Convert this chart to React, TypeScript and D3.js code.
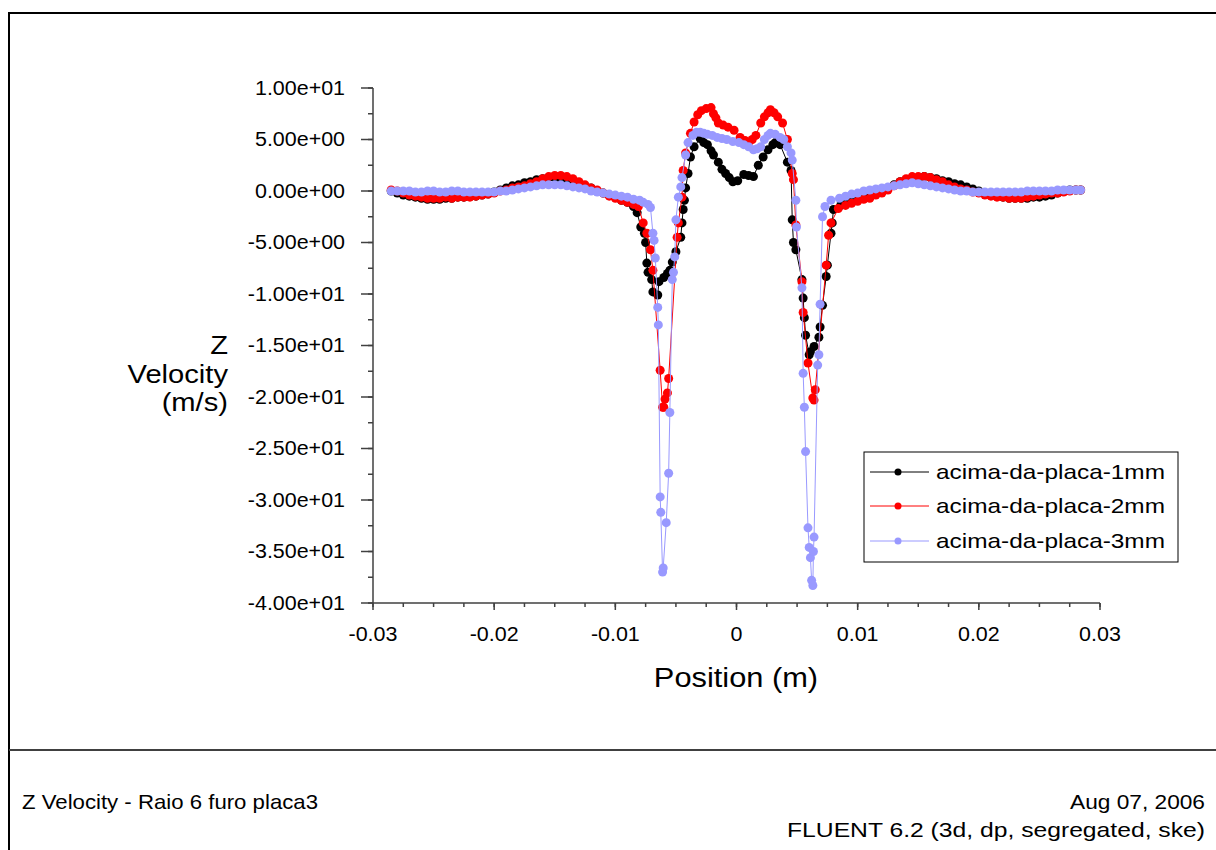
import React from "react";
import * as d3 from "d3";

// Z velocity profiles above the plate (position in m, velocity in m/s)
type Pt = [number, number];

const plate1mm: Pt[] = [
  [-0.0285, 0.0], [-0.028, -0.2], [-0.0275, -0.4], [-0.027, -0.5], [-0.0265, -0.6], [-0.026, -0.7],
  [-0.0255, -0.8], [-0.025, -0.8], [-0.0245, -0.8], [-0.024, -0.7], [-0.0235, -0.7], [-0.023, -0.6],
  [-0.0225, -0.6], [-0.022, -0.5], [-0.0215, -0.5], [-0.021, -0.4], [-0.0205, -0.3], [-0.02, -0.1],
  [-0.0195, 0.1], [-0.019, 0.3], [-0.0185, 0.5], [-0.018, 0.6], [-0.0175, 0.8], [-0.017, 0.9],
  [-0.0165, 1.1], [-0.016, 1.2], [-0.0155, 1.3], [-0.015, 1.3], [-0.0145, 1.2], [-0.014, 1.1],
  [-0.0135, 0.9], [-0.013, 0.7], [-0.0125, 0.5], [-0.012, 0.3], [-0.0115, 0.0], [-0.011, -0.2],
  [-0.0105, -0.4], [-0.01, -0.6], [-0.0095, -0.9], [-0.009, -1.1], [-0.0085, -1.5], [-0.0082, -2.1],
  [-0.0079, -3.5], [-0.0076, -4.1], [-0.0075, -5.0], [-0.0074, -7.0], [-0.0073, -7.9], [-0.007, -8.6],
  [-0.0069, -9.8], [-0.0065, -10.1], [-0.0064, -8.8], [-0.006, -8.4], [-0.0057, -8.0], [-0.0055, -7.7],
  [-0.0053, -6.9], [-0.005, -5.9], [-0.0046, -4.5], [-0.0045, -3.1], [-0.0044, -1.8], [-0.0043, -0.9],
  [-0.0042, 0.3], [-0.004, 1.7], [-0.0038, 3.3], [-0.0035, 4.3], [-0.003, 5.1], [-0.0027, 4.7],
  [-0.0024, 4.5], [-0.0021, 3.9], [-0.0019, 3.5], [-0.0015, 2.8], [-0.0012, 2.1], [-0.0009, 1.7],
  [-0.0006, 1.3], [-0.0003, 0.9], [0.0001, 1.0], [0.0006, 1.6], [0.001, 1.5], [0.0014, 1.4],
  [0.0018, 2.5], [0.0022, 3.3], [0.0026, 4.0], [0.003, 4.5], [0.0032, 4.7], [0.0036, 4.5],
  [0.0042, 2.8], [0.0045, 2.0], [0.0046, -2.8], [0.0047, -5.0], [0.0049, -5.7], [0.0054, -8.6],
  [0.0055, -10.4], [0.0056, -12.3], [0.0057, -14.0], [0.006, -15.9], [0.0061, -15.6], [0.0064, -15.1],
  [0.0068, -14.2], [0.0069, -13.2], [0.0071, -11.1], [0.0074, -8.3], [0.0075, -7.2], [0.0078, -4.1],
  [0.0079, -3.1], [0.008, -1.8], [0.0086, -1.4], [0.009, -1.3], [0.0095, -1.1], [0.01, -0.9],
  [0.0105, -0.7], [0.011, -0.5], [0.0115, -0.3], [0.012, 0.0], [0.0125, 0.3], [0.013, 0.6],
  [0.0135, 0.9], [0.014, 1.1], [0.0145, 1.2], [0.015, 1.3], [0.0155, 1.4], [0.016, 1.3],
  [0.0165, 1.2], [0.017, 1.0], [0.0175, 0.9], [0.018, 0.7], [0.0185, 0.6], [0.019, 0.4],
  [0.0195, 0.2], [0.02, 0.0], [0.0205, -0.2], [0.021, -0.4], [0.0215, -0.5], [0.022, -0.6],
  [0.0225, -0.7], [0.023, -0.7], [0.0235, -0.7], [0.024, -0.7], [0.0245, -0.6], [0.025, -0.6],
  [0.0255, -0.5], [0.026, -0.4], [0.0265, -0.2], [0.027, 0.0], [0.0275, 0.1], [0.028, 0.1],
  [0.0284, 0.1],
];

const plate2mm: Pt[] = [
  [-0.0285, 0.1], [-0.028, 0.0], [-0.0275, -0.2], [-0.027, -0.4], [-0.0265, -0.5], [-0.026, -0.6],
  [-0.0255, -0.7], [-0.025, -0.7], [-0.0245, -0.7], [-0.024, -0.6], [-0.0235, -0.7], [-0.023, -0.6],
  [-0.0225, -0.6], [-0.022, -0.6], [-0.0215, -0.5], [-0.021, -0.4], [-0.0205, -0.3], [-0.02, -0.2],
  [-0.0195, 0.0], [-0.019, 0.1], [-0.0185, 0.3], [-0.018, 0.4], [-0.0175, 0.5], [-0.017, 0.7],
  [-0.0165, 0.9], [-0.016, 1.2], [-0.0155, 1.4], [-0.015, 1.5], [-0.0145, 1.5], [-0.014, 1.4],
  [-0.0135, 1.2], [-0.013, 0.9], [-0.0125, 0.6], [-0.012, 0.3], [-0.0115, 0.1], [-0.011, -0.2],
  [-0.0105, -0.5], [-0.01, -0.7], [-0.0095, -0.9], [-0.009, -1.1], [-0.0085, -1.3], [-0.0081, -1.5],
  [-0.0077, -3.1], [-0.0074, -4.1], [-0.0071, -5.7], [-0.0069, -7.7], [-0.0063, -17.4], [-0.0061, -21.0],
  [-0.006, -21.0], [-0.0059, -20.2], [-0.0057, -19.6], [-0.0056, -18.2], [-0.0049, -4.5], [-0.0048, -3.1],
  [-0.0045, -0.6], [-0.0044, 2.0], [-0.0042, 3.7], [-0.0038, 5.6], [-0.0035, 6.7], [-0.0032, 7.4],
  [-0.0029, 7.8], [-0.0025, 8.0], [-0.0021, 8.1], [-0.0019, 7.5], [-0.0017, 7.1], [-0.0015, 6.6],
  [-0.0011, 6.4], [-0.0007, 6.2], [-0.0002, 5.9], [0.0003, 5.2], [0.0007, 4.9], [0.001, 4.7],
  [0.0013, 5.0], [0.0016, 5.4], [0.002, 6.6], [0.0023, 7.2], [0.0026, 7.6], [0.0028, 7.9],
  [0.0031, 7.6], [0.0034, 7.2], [0.0038, 6.6], [0.0042, 5.0], [0.0046, 1.7], [0.0047, 1.1],
  [0.0049, -3.3], [0.0054, -8.8], [0.0055, -11.8], [0.0059, -16.7], [0.0063, -20.1], [0.0064, -20.3],
  [0.0065, -19.3], [0.0074, -7.2], [0.0076, -4.3], [0.0078, -3.1], [0.0084, -1.7], [0.009, -1.4],
  [0.0095, -1.2], [0.01, -1.0], [0.0105, -0.8], [0.011, -0.7], [0.0115, -0.4], [0.012, -0.2],
  [0.0125, 0.1], [0.013, 0.5], [0.0135, 0.9], [0.014, 1.2], [0.0145, 1.4], [0.015, 1.4],
  [0.0155, 1.4], [0.016, 1.3], [0.0165, 1.1], [0.017, 0.9], [0.0175, 0.6], [0.018, 0.4],
  [0.0185, 0.2], [0.019, 0.1], [0.0195, -0.1], [0.02, -0.2], [0.0205, -0.4], [0.021, -0.5],
  [0.0215, -0.6], [0.022, -0.6], [0.0225, -0.7], [0.023, -0.7], [0.0235, -0.7], [0.024, -0.6],
  [0.0245, -0.5], [0.025, -0.4], [0.0255, -0.3], [0.026, -0.2], [0.0265, -0.2], [0.027, -0.1],
  [0.0275, 0.0], [0.028, 0.1], [0.0284, 0.1],
];

const plate3mm: Pt[] = [
  [-0.0285, 0.0], [-0.028, 0.0], [-0.0275, 0.0], [-0.027, 0.0], [-0.0265, -0.1], [-0.026, -0.1],
  [-0.0255, 0.0], [-0.025, 0.0], [-0.0245, -0.1], [-0.024, -0.1], [-0.0235, 0.0], [-0.023, 0.0],
  [-0.0225, -0.1], [-0.022, -0.1], [-0.0215, -0.1], [-0.021, -0.1], [-0.0205, -0.1], [-0.02, -0.1],
  [-0.0195, 0.0], [-0.019, 0.0], [-0.0185, 0.1], [-0.018, 0.2], [-0.0175, 0.3], [-0.017, 0.4],
  [-0.0165, 0.5], [-0.016, 0.6], [-0.0155, 0.6], [-0.015, 0.6], [-0.0145, 0.6], [-0.014, 0.5],
  [-0.0135, 0.4], [-0.013, 0.3], [-0.0125, 0.2], [-0.012, 0.0], [-0.0115, -0.1], [-0.011, -0.2],
  [-0.0105, -0.3], [-0.01, -0.4], [-0.0095, -0.5], [-0.009, -0.6], [-0.0085, -0.8], [-0.008, -0.9],
  [-0.0077, -1.1], [-0.0073, -1.3], [-0.0071, -1.6], [-0.0069, -4.1], [-0.0068, -4.8], [-0.0067, -6.5],
  [-0.0065, -11.3], [-0.00645, -13.0], [-0.0063, -29.7], [-0.00625, -31.2], [-0.0061, -37.0], [-0.00605, -36.6],
  [-0.0058, -32.2], [-0.0056, -27.4], [-0.0055, -21.5], [-0.0053, -8.6], [-0.0052, -7.9], [-0.0051, -6.4],
  [-0.005, -2.8], [-0.0048, -0.6], [-0.0046, 0.4], [-0.0045, 1.3], [-0.0042, 3.5], [-0.004, 4.7],
  [-0.0036, 5.4], [-0.0033, 5.7], [-0.003, 5.7], [-0.0027, 5.6], [-0.0024, 5.5], [-0.002, 5.4],
  [-0.0016, 5.2], [-0.0012, 5.1], [-0.0008, 5.0], [-0.0003, 4.8], [0.0002, 4.7], [0.0006, 4.5],
  [0.001, 4.3], [0.0014, 4.0], [0.0017, 4.1], [0.002, 4.3], [0.0023, 5.0], [0.0026, 5.4],
  [0.0028, 5.6], [0.0032, 5.5], [0.0036, 5.2], [0.0039, 5.0], [0.0042, 4.3], [0.0045, 3.7],
  [0.0046, 3.0], [0.0049, -0.9], [0.00495, -3.5], [0.0054, -9.4], [0.0055, -17.7], [0.0056, -21.0],
  [0.0057, -25.3], [0.0059, -32.7], [0.006, -34.6], [0.0061, -35.6], [0.0062, -37.8], [0.0063, -38.3],
  [0.00635, -35.0], [0.0064, -33.6], [0.0067, -16.9], [0.0068, -15.9], [0.0069, -11.0], [0.0071, -2.5],
  [0.0073, -1.5], [0.0078, -0.9], [0.0085, -0.7], [0.009, -0.5], [0.0095, -0.3], [0.01, -0.2],
  [0.0105, 0.0], [0.011, 0.1], [0.0115, 0.2], [0.012, 0.3], [0.0125, 0.4], [0.013, 0.5],
  [0.0135, 0.6], [0.014, 0.7], [0.0145, 0.8], [0.015, 0.7], [0.0155, 0.6], [0.016, 0.5],
  [0.0165, 0.4], [0.017, 0.3], [0.0175, 0.2], [0.018, 0.1], [0.0185, 0.0], [0.019, 0.0],
  [0.0195, -0.1], [0.02, -0.1], [0.0205, -0.1], [0.021, -0.1], [0.0215, -0.1], [0.022, -0.1],
  [0.0225, -0.1], [0.023, -0.1], [0.0235, -0.1], [0.024, 0.0], [0.0245, 0.0], [0.025, 0.0],
  [0.0255, 0.0], [0.026, 0.0], [0.0265, 0.1], [0.027, 0.1], [0.0275, 0.1], [0.028, 0.1],
  [0.0284, 0.1],
];

const seriesNames = ["acima-da-placa-1mm", "acima-da-placa-2mm", "acima-da-placa-3mm"];
const seriesColors = ["#000000", "#ff0000", "#9999ff"];
const seriesData = [plate1mm, plate2mm, plate3mm];

const xTicks = [-0.03, -0.02, -0.01, 0, 0.01, 0.02, 0.03];
const xTickLabels = ["-0.03", "-0.02", "-0.01", "0", "0.01", "0.02", "0.03"];
const yTicks = [10, 5, 0, -5, -10, -15, -20, -25, -30, -35, -40];
const yTickLabels = [
  "1.00e+01", "5.00e+00", "0.00e+00", "-5.00e+00", "-1.00e+01", "-1.50e+01",
  "-2.00e+01", "-2.50e+01", "-3.00e+01", "-3.50e+01", "-4.00e+01",
];

const W = 1216;
const H = 850;
const FONT = "'Liberation Sans', Arial, sans-serif";
const AXIS = "#404040";

// Helvetica-style text rendered slightly wide, as the solver's plot output does
const wide = (cx: number) => `translate(${cx},0) scale(1.1,1) translate(${-cx},0)`;

export default function App() {
  const x = d3.scaleLinear().domain([-0.03, 0.03]).range([373, 1100]);
  const y = d3.scaleLinear().domain([-40, 10]).range([603, 88]);
  const line = d3
    .line<Pt>()
    .x((d) => x(d[0]))
    .y((d) => y(d[1]));

  const xMinor = d3.range(-0.03, 0.0301, 0.0025);
  const yMinor = d3.range(-40, 10.01, 2.5);

  const legendX = 864;
  const legendY = 452;
  const legendRows = [472, 506, 541];

  return (
    <svg
      width={W}
      height={H}
      style={{ position: "absolute", left: 0, top: 0, background: "#fff" }}
      fontFamily={FONT}
    >
      <rect x={0} y={0} width={W} height={H} fill="#fff" />
      {/* page frame */}
      <line x1={9} y1={13} x2={W} y2={13} stroke="#000" strokeWidth={2} />
      <line x1={9} y1={12} x2={9} y2={H} stroke="#000" strokeWidth={2} />
      <line x1={9} y1={750} x2={W} y2={750} stroke={AXIS} strokeWidth={2} />

      {/* axes */}
      <line x1={373} y1={y(10)} x2={373} y2={y(-40)} stroke={AXIS} strokeWidth={1.5} />
      <line x1={373} y1={603} x2={x(0.03)} y2={603} stroke={AXIS} strokeWidth={1.5} />
      {yMinor.map((v, i) => (
        <line key={"ym" + i} x1={368} x2={373} y1={y(v)} y2={y(v)} stroke={AXIS} strokeWidth={1.5} />
      ))}
      {yTicks.map((v, i) => (
        <g key={"yt" + i}>
          <line x1={361} x2={373} y1={y(v)} y2={y(v)} stroke={AXIS} strokeWidth={1.5} />
          <text x={345} y={y(v)} dy="0.35em" textAnchor="end" fontSize={19.5} fill="#000" transform={wide(345)}>
            {yTickLabels[i]}
          </text>
        </g>
      ))}
      {xMinor.map((v, i) => (
        <line key={"xm" + i} x1={x(v)} x2={x(v)} y1={603} y2={607} stroke={AXIS} strokeWidth={1.5} />
      ))}
      {xTicks.map((v, i) => (
        <g key={"xt" + i}>
          <line x1={x(v)} x2={x(v)} y1={603} y2={610} stroke={AXIS} strokeWidth={1.5} />
          <text x={x(v)} y={641} textAnchor="middle" fontSize={19.5} fill="#000" transform={wide(x(v))}>
            {xTickLabels[i]}
          </text>
        </g>
      ))}

      {/* axis titles */}
      <text x={736} y={687} textAnchor="middle" fontSize={28} fill="#000" transform={wide(736)}>
        Position (m)
      </text>
      <g textAnchor="end" fontSize={26.5} fill="#000" transform={wide(228)}>
        <text x={228} y={354}>Z</text>
        <text x={228} y={383}>Velocity</text>
        <text x={228} y={411}>(m/s)</text>
      </g>

      {/* series */}
      {seriesData.map((data, si) => (
        <g key={"s" + si}>
          <path d={line(data) || ""} fill="none" stroke={seriesColors[si]} strokeWidth={1} />
          {data.map((d, i) => (
            <circle key={i} cx={x(d[0])} cy={y(d[1])} r={4.5} fill={seriesColors[si]} />
          ))}
        </g>
      ))}

      {/* legend */}
      <rect x={legendX} y={legendY} width={314} height={110} fill="#fff" stroke="#000" strokeWidth={1} />
      {seriesNames.map((name, i) => (
        <g key={"lg" + i}>
          <line x1={870} x2={929} y1={legendRows[i]} y2={legendRows[i]} stroke={seriesColors[i]} strokeWidth={1} />
          <circle cx={898} cy={legendRows[i]} r={3.5} fill={seriesColors[i]} />
          <text
            x={936}
            y={legendRows[i]}
            dy="0.35em"
            fontSize={21}
            fill="#000"
            textLength={229}
            lengthAdjust="spacingAndGlyphs"
          >
            {name}
          </text>
        </g>
      ))}

      {/* footer */}
      <text x={22} y={809} fontSize={21} fill="#000" textLength={296} lengthAdjust="spacingAndGlyphs">
        Z Velocity - Raio 6 furo placa3
      </text>
      <text x={1070} y={809} fontSize={21} fill="#000" textLength={135} lengthAdjust="spacingAndGlyphs">
        Aug 07, 2006
      </text>
      <text x={787} y={837} fontSize={21} fill="#000" textLength={418} lengthAdjust="spacingAndGlyphs">
        FLUENT 6.2 (3d, dp, segregated, ske)
      </text>
    </svg>
  );
}
